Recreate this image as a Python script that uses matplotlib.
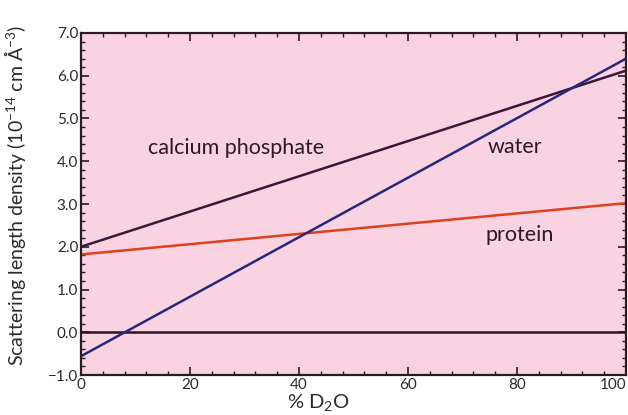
import numpy as np
import matplotlib.pyplot as plt
from matplotlib.ticker import MultipleLocator

plt.rcParams['font.family'] = ['Lato', 'DejaVu Sans']
plt.rcParams['mathtext.default'] = 'regular'

# % D2O at the two ends of each straight line
d2o = [0, 100]
water = [-0.56, 6.40]
calcium_phosphate = [2.0, 6.12]
protein = [1.82, 3.02]
baseline = [0.0, 0.0]

x_ticks = [0, 20, 40, 60, 80, 100]
y_ticks = [-1.0, 0.0, 1.0, 2.0, 3.0, 4.0, 5.0, 6.0, 7.0]

fig = plt.figure(figsize=(6.28, 4.15), dpi=100)
ax = fig.add_axes([81 / 628, 40 / 415, 545 / 628, 342 / 415])
ax.set_facecolor('#f9d3e2')

ax.plot(d2o, baseline, color='#2a1420', lw=1.8)
ax.plot(d2o, protein, color='#e0401c', lw=1.8)
ax.plot(d2o, calcium_phosphate, color='#3c1838', lw=1.8)
ax.plot(d2o, water, color='#28287a', lw=1.8)

ax.set_xlim(0, 100)
ax.set_ylim(-1, 7)
ax.set_xticks(x_ticks)
ax.set_yticks(y_ticks)
ax.set_yticklabels([f'{v:.1f}'.replace('-', '\u2212') for v in y_ticks])
ax.xaxis.set_minor_locator(MultipleLocator(4))
ax.yaxis.set_minor_locator(MultipleLocator(0.2))
ax.tick_params(which='both', direction='in', top=True, right=True,
               color='#2a1a22', labelsize=11, labelcolor='#2a2a2a', pad=2)
ax.tick_params(which='major', length=6, width=1.2)
ax.tick_params(which='minor', length=3, width=1)
for s in ax.spines.values():
    s.set_linewidth(1.6)
    s.set_color('#2a1a22')

ax.get_xticklabels()[-1].set_horizontalalignment('right')

ax.set_xlabel('% D$_2$O', fontsize=14.5, color='#2a2a2a')
ax.xaxis.set_label_coords(0.435, -0.05)
ax.set_ylabel('Scattering length density (10$^{\u221214}$ cm \u00c5$^{\u22123}$)',
              fontsize=14, color='#2a2a2a')
ax.yaxis.set_label_coords(-0.097, 0.525)

ax.text(28.5, 4.31, 'calcium phosphate', fontsize=15.5, color='#2a1a22', ha='center', va='center')
ax.text(79.6, 4.33, 'water', fontsize=15.5, color='#2a1a22', ha='center', va='center')
ax.text(80.5, 2.27, 'protein', fontsize=15.5, color='#2a1a22', ha='center', va='center')

fig.savefig('out.png', dpi=100)
